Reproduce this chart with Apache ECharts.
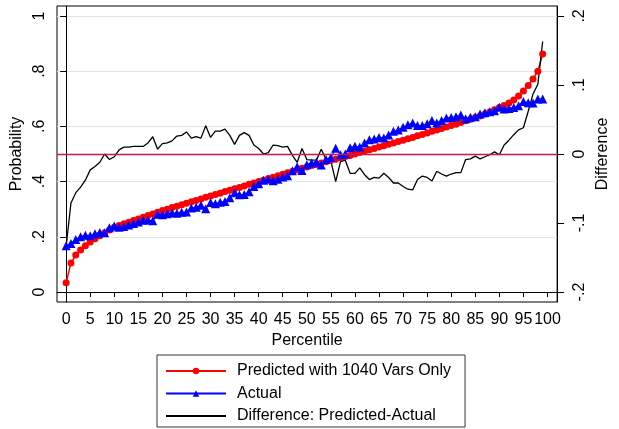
<!DOCTYPE html>
<html><head><meta charset="utf-8">
<script src="https://cdn.jsdelivr.net/npm/echarts@6/dist/echarts.min.js"></script>
<style>html,body{margin:0;padding:0;background:#fff}#c{width:619px;height:429px}</style>
</head><body><div id="c"></div>
<script>
var percentiles = [0,1,2,3,4,5,6,7,8,9,10,11,12,13,14,15,16,17,18,19,20,21,22,23,24,25,26,27,28,29,30,31,32,33,34,35,36,37,38,39,40,41,42,43,44,45,46,47,48,49,50,51,52,53,54,55,56,57,58,59,60,61,62,63,64,65,66,67,68,69,70,71,72,73,74,75,76,77,78,79,80,81,82,83,84,85,86,87,88,89,90,91,92,93,94,95,96,97,98,99];
var predicted = [0.034,0.105,0.134,0.152,0.168,0.181,0.193,0.204,0.215,0.225,
0.235,0.241,0.247,0.253,0.259,0.265,0.271,0.277,0.283,0.289,
0.295,0.300,0.306,0.311,0.316,0.322,0.327,0.332,0.337,0.343,
0.348,0.353,0.358,0.364,0.369,0.374,0.379,0.384,0.390,0.395,
0.400,0.405,0.411,0.416,0.421,0.427,0.432,0.437,0.442,0.448,
0.453,0.458,0.462,0.467,0.472,0.477,0.481,0.486,0.491,0.495,
0.500,0.505,0.510,0.515,0.520,0.525,0.530,0.535,0.540,0.545,
0.550,0.555,0.560,0.566,0.571,0.576,0.582,0.587,0.592,0.598,
0.603,0.608,0.614,0.620,0.626,0.632,0.638,0.645,0.652,0.660,
0.668,0.676,0.685,0.696,0.710,0.728,0.748,0.772,0.800,0.862];
var actual = [0.168,0.176,0.190,0.200,0.206,0.204,0.211,0.216,0.215,0.233,
0.239,0.235,0.237,0.243,0.248,0.254,0.260,0.261,0.258,0.282,
0.280,0.284,0.287,0.285,0.289,0.290,0.304,0.307,0.314,0.302,
0.324,0.320,0.325,0.328,0.342,0.360,0.352,0.353,0.363,0.382,
0.392,0.405,0.409,0.403,0.409,0.417,0.421,0.439,0.454,0.440,
0.461,0.467,0.471,0.460,0.480,0.487,0.521,0.497,0.500,0.523,
0.528,0.525,0.540,0.552,0.554,0.560,0.558,0.569,0.582,0.587,
0.597,0.606,0.612,0.603,0.603,0.610,0.621,0.612,0.621,0.630,
0.632,0.635,0.641,0.628,0.633,0.635,0.645,0.649,0.653,0.657,
0.669,0.663,0.665,0.668,0.675,0.690,0.686,0.685,0.699,0.699];
var difference = [-0.134,-0.071,-0.056,-0.048,-0.038,-0.023,-0.018,-0.012,0.000,-0.008,
-0.004,0.006,0.010,0.010,0.011,0.011,0.011,0.016,0.025,0.007,
0.015,0.016,0.019,0.026,0.027,0.032,0.023,0.025,0.023,0.041,
0.024,0.033,0.033,0.036,0.027,0.014,0.027,0.031,0.027,0.013,
0.008,0.000,0.002,0.013,0.012,0.010,0.011,-0.002,-0.012,0.008,
-0.008,-0.009,-0.009,0.007,-0.008,-0.010,-0.040,-0.011,-0.009,-0.028,
-0.028,-0.020,-0.030,-0.037,-0.034,-0.035,-0.028,-0.034,-0.042,-0.042,
-0.047,-0.051,-0.052,-0.037,-0.032,-0.034,-0.039,-0.025,-0.029,-0.032,
-0.029,-0.027,-0.027,-0.008,-0.007,-0.003,-0.007,-0.004,-0.001,0.003,
-0.001,0.013,0.020,0.028,0.035,0.038,0.062,0.087,0.101,0.163];
var xTicks = [0,5,10,15,20,25,30,35,40,45,50,55,60,65,70,75,80,85,90,95,100];
var leftTicks = [0,0.2,0.4,0.6,0.8,1];
var rightTicks = [-0.2,-0.1,0,0.1,0.2];
var refLine = 0.5;

function pairs(ys){ return percentiles.map(function(p,i){ return [p, ys[i]]; }); }
function fmt(v){
  var r = Math.round(v*1000)/1000;
  if (r === 0) return '0';
  if (r === 1) return '1';
  var s = String(Math.abs(r)).replace(/^0\./,'.');
  return (r < 0 ? '-' : '') + s;
}
var font = 'Liberation Sans, Arial, Helvetica, sans-serif';
var chart = echarts.init(document.getElementById('c'), null, {renderer:'canvas'});
chart.setOption({
  animation: false,
  textStyle: {fontFamily: font},
  grid: {left:57, right:54, top:6, bottom:127, show:true, borderColor:'#000', borderWidth:1, backgroundColor:'transparent'},
  legend: {
    orient:'vertical', left:157, top:355, width:400, height:120, padding:[8,14,3,8],
    itemWidth:60, itemHeight:8, itemGap:6.5,
    borderColor:'#333', borderWidth:1,
    textStyle:{fontFamily:font, fontSize:16, lineHeight:14, color:'#000', padding:[0,0,0,6]},
    data:[
      {name:'Predicted with 1040 Vars Only'},
      {name:'Actual'},
      {name:'Difference: Predicted-Actual', itemStyle:{opacity:0}}
    ]
  },
  xAxis: {
    type:'value', min:-1.9, max:102,
    name:'Percentile', nameLocation:'middle', nameGap:23,
    nameTextStyle:{fontFamily:font, fontSize:16, color:'#000'},
    axisLine:{lineStyle:{color:'#000', width:1}},
    axisTick:{show:true, length:5, customValues:xTicks, lineStyle:{color:'#000'}},
    axisLabel:{customValues:xTicks, fontFamily:font, fontSize:16, color:'#000', margin:10},
    splitLine:{show:false}
  },
  yAxis: [{
    type:'value', min:-0.036, max:1.036, position:'left',
    name:'Probability', nameLocation:'middle', nameGap:27, nameRotate:90,
    nameTextStyle:{fontFamily:font, fontSize:16, color:'#000'},
    axisLine:{show:true, lineStyle:{color:'#000', width:1}},
    axisTick:{show:true, length:6, customValues:leftTicks, lineStyle:{color:'#000'}},
    axisLabel:{customValues:leftTicks, rotate:90, formatter:fmt, fontFamily:font, fontSize:16, color:'#000', margin:9},
    splitLine:{show:true, lineStyle:{color:'#e3e3e3', width:1.2}}
  },{
    type:'value', min:-0.2144, max:0.2144, position:'right',
    name:'Difference', nameLocation:'middle', nameGap:22, nameRotate:90,
    nameTextStyle:{fontFamily:font, fontSize:16, color:'#000'},
    axisLine:{show:true, lineStyle:{color:'#000', width:1}},
    axisTick:{show:true, length:7, customValues:rightTicks, lineStyle:{color:'#000'}},
    axisLabel:{customValues:rightTicks, rotate:90, formatter:fmt, fontFamily:font, fontSize:16, color:'#000', margin:14},
    splitLine:{show:false}
  }],
  series: [{
    name:'Predicted with 1040 Vars Only', type:'line', yAxisIndex:0,
    data: pairs(predicted), symbol:'circle', symbolSize:7, showSymbol:true,
    itemStyle:{color:'#ff0000'}, lineStyle:{color:'#ff0000', width:1.5},
    markLine:{silent:true, symbol:'none', label:{show:false},
      lineStyle:{color:'#cc1747', width:1.4, type:'solid'}, data:[{yAxis:refLine}]}
  },{
    name:'Actual', type:'line', yAxisIndex:0,
    data: pairs(actual), symbol:'triangle', symbolSize:9, showSymbol:true,
    itemStyle:{color:'#0000ff'}, lineStyle:{color:'#0000ff', width:1.2}
  },{
    name:'Difference: Predicted-Actual', type:'line', yAxisIndex:1,
    data: pairs(difference), symbol:'none', showSymbol:false,
    itemStyle:{color:'#000'}, lineStyle:{color:'#000', width:1.3}
  }]
});
</script></body></html>
